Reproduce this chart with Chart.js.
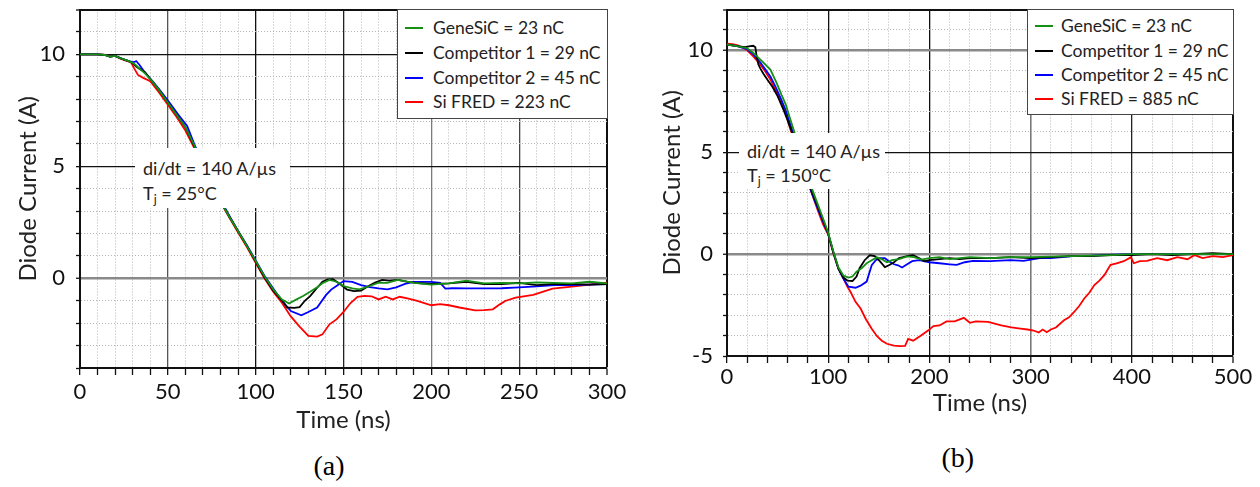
<!DOCTYPE html>
<html><head><meta charset="utf-8">
<script src="https://cdn.jsdelivr.net/npm/chart.js@4"></script>
<style>
html,body{margin:0;padding:0;background:#fff;width:1260px;height:487px;overflow:hidden;font-family:Lato,sans-serif;}
canvas{display:block;position:absolute;top:0}
.legend{position:absolute;background:#fff;border:1px solid #444;box-sizing:border-box;}
.row{position:absolute;height:22px;line-height:22px;white-space:nowrap;font-size:17.5px;color:#222;font-family:Lato,sans-serif}
.sw{position:absolute;height:2px}
.note{position:absolute;background:#fff}
.ntext{position:absolute;white-space:nowrap;font-size:18px;color:#222;line-height:24px;font-family:Lato,sans-serif}
.ntext sub{font-size:12.5px;vertical-align:-4px;line-height:0}
.cap{position:absolute;font-family:'Liberation Serif',serif;font-size:28px;color:#000;line-height:32px;white-space:nowrap}
</style></head>
<body>
<canvas id="ca" width="640" height="440" style="left:0"></canvas>
<canvas id="cb" width="620" height="440" style="left:640px"></canvas>
<script>
// ---------- data ----------
const seriesNames = ['GeneSiC', 'Competitor 1', 'Competitor 2', 'Si FRED'];
const chargeA = ['23 nC', '29 nC', '45 nC', '223 nC'];
const chargeB = ['23 nC', '29 nC', '45 nC', '885 nC'];
const xLabelsA = [0, 50, 100, 150, 200, 250, 300];
const yLabelsA = [0, 5, 10];
const xLabelsB = [0, 100, 200, 300, 400, 500];
const yLabelsB = [-5, 0, 5, 10];

// (a) Tj = 25 C
const geneA_t = [0,10,14,17,20,24,27,30,32,34,37,41,45,50,55,60,65,70,75,80,85,90,95,100,105,110,115,119,123,127,131,135,138,142,146,150,155,159,165,170,175,181,190,200,210,220,230,240,250,260,270,280,290,300];
const geneA_I = [10,10,9.97,9.9,9.93,9.8,9.72,9.62,9.5,9.35,9.15,8.8,8.4,7.85,7.3,6.75,5.95,5.05,4.25,3.45,2.75,2.1,1.45,0.78,0.1,-0.5,-0.95,-1.12,-0.95,-0.79,-0.6,-0.4,-0.22,-0.07,-0.15,-0.34,-0.45,-0.49,-0.34,-0.19,-0.2,-0.07,-0.2,-0.28,-0.22,-0.1,-0.22,-0.2,-0.22,-0.18,-0.2,-0.22,-0.15,-0.22];
const comp1A_t = [0,10,14,17,20,24,27,30,32,34,37,41,45,50,55,60,65,70,75,80,85,90,95,100,105,110,115,118,122,125,128,131,135,138,141,144,148,152,156,160,164,168,172,176,181,186,191,200,210,220,230,240,250,260,270,280,290,300];
const comp1A_I = [10,10,9.97,9.9,9.93,9.8,9.72,9.6,9.45,9.35,9.2,8.8,8.4,7.85,7.3,6.75,5.9,5.05,4.25,3.45,2.75,2.1,1.45,0.75,0.05,-0.55,-1.0,-1.3,-1.32,-1.28,-1.0,-0.79,-0.42,-0.15,-0.05,-0.04,-0.25,-0.5,-0.57,-0.55,-0.35,-0.19,-0.07,-0.1,-0.07,-0.15,-0.2,-0.25,-0.22,-0.15,-0.25,-0.25,-0.2,-0.3,-0.25,-0.25,-0.28,-0.25];
const comp2A_t = [0,10,14,17,20,24,27,30,31,32,34,37,42,46,51,56,61,65,70,75,80,85,90,95,100,105,110,114,120,126,130,135,140,143,146,150,155,160,165,170,175,180,185,190,200,205,208,212,220,230,240,250,260,270,280,290,300];
const comp2A_I = [10,10,9.97,9.9,9.93,9.8,9.72,9.65,9.66,9.7,9.51,9.18,8.74,8.35,7.84,7.3,6.8,6.0,5.1,4.3,3.5,2.8,2.12,1.48,0.8,0.12,-0.45,-0.9,-1.46,-1.65,-1.5,-1.3,-0.75,-0.5,-0.34,-0.12,-0.16,-0.3,-0.39,-0.45,-0.49,-0.4,-0.25,-0.16,-0.16,-0.2,-0.46,-0.44,-0.45,-0.45,-0.44,-0.4,-0.36,-0.3,-0.3,-0.28,-0.25];
const siA_t = [0,10,15,17,20,23,26,29,31,33,36,40,45,50,55,60,65,70,75,80,85,90,95,100,105,110,115,120,125,130,135,138,142,146,150,154,158,162,166,170,174,178,182,187,192,200,205,210,216,225,230,235,239,242,248,258,269,280,290,300];
const siA_I = [10,10,9.97,9.9,9.93,9.8,9.72,9.65,9.35,9.08,8.95,8.8,8.3,7.75,7.2,6.6,5.82,5.0,4.2,3.4,2.72,2.05,1.4,0.7,0.0,-0.6,-1.1,-1.7,-2.15,-2.57,-2.6,-2.5,-2.05,-1.83,-1.5,-1.1,-0.82,-0.78,-0.8,-0.94,-0.82,-0.94,-0.82,-0.9,-1.0,-1.2,-1.15,-1.2,-1.3,-1.43,-1.42,-1.38,-1.16,-1.01,-0.86,-0.74,-0.46,-0.37,-0.28,-0.19];

// (b) Tj = 150 C
const geneB_t = [0,10,20,26,33,38,43,49,54,58,62,66,72,78,84,90,96,100,105,110,115,120,124,128,133,138,143,148,153,158,163,170,178,185,192,200,210,220,230,240,260,280,300,320,340,360,380,400,430,460,500];
const geneB_I = [10.28,10.2,10.1,9.87,9.54,9.3,9.04,8.4,7.8,7.35,6.7,6.07,5.1,4.1,3.2,2.4,1.6,1.05,0.15,-0.65,-1.05,-1.15,-1.1,-0.86,-0.7,-0.45,-0.3,-0.16,-0.25,-0.4,-0.3,-0.25,-0.11,-0.15,-0.27,-0.2,-0.15,-0.25,-0.2,-0.15,-0.2,-0.15,-0.15,-0.12,-0.1,-0.08,-0.05,0,0,0,0];
const comp1B_t = [0,10,18,23,26,28,29,31,33,36,40,45,50,56,60,64,70,76,82,88,94,100,105,110,115,119,124,128,131,136,141,146,151,156,160,165,170,175,180,184,190,195,200,210,220,230,240,260,280,300,320,340,360,380,400,420,440,460,480,500];
const comp1B_I = [10.28,10.2,10.15,10.2,10.22,10.15,9.8,9.3,9.1,8.85,8.55,8.2,7.75,7.06,6.55,6.0,5.1,4.2,3.3,2.55,1.8,1.0,0.1,-0.7,-1.15,-1.3,-1.32,-1.1,-0.69,-0.3,-0.06,-0.1,-0.35,-0.64,-0.55,-0.4,-0.2,-0.14,-0.08,-0.05,-0.2,-0.35,-0.3,-0.25,-0.2,-0.25,-0.2,-0.2,-0.15,-0.2,-0.15,-0.1,-0.1,-0.05,-0.05,0,-0.05,0,0.05,0];
const comp2B_t = [0,10,20,26,33,38,43,48,53,58,63,68,74,80,86,92,97,100,105,110,115,120,127,132,138,143,147,151,156,160,165,169,173,178,183,190,200,210,220,227,235,243,260,280,293,309,320,342,360,375,400,450,500];
const comp2B_I = [10.28,10.2,10.05,9.8,9.4,9.05,8.7,8.2,7.65,7.05,6.3,5.55,4.55,3.5,2.7,1.95,1.35,1.0,0.1,-0.7,-1.2,-1.6,-1.65,-1.55,-1.35,-0.55,-0.3,-0.2,-0.2,-0.35,-0.5,-0.55,-0.66,-0.5,-0.35,-0.3,-0.4,-0.45,-0.5,-0.53,-0.4,-0.33,-0.35,-0.3,-0.33,-0.2,-0.2,-0.1,-0.08,-0.04,0,0,0];
const siB_t = [0,5,10,16,20,26,33,38,43,48,53,58,63,68,73,78,84,90,95,100,105,110,115,119,122,127,132,137,143,148,153,158,165,171,176,179,184,191,199,204,210,217,225,234,240,246,258,271,281,290,297,303,308,312,316,320,325,333,338,343,348,353,358,363,368,373,379,385,392,399,402,408,415,425,435,445,455,462,470,480,490,500];
const siB_I = [10.33,10.3,10.25,10.12,10.0,9.7,9.29,8.95,8.55,8.05,7.48,6.9,6.07,5.35,4.6,3.85,2.95,2.1,1.45,0.96,0.05,-0.7,-1.19,-1.6,-1.85,-2.34,-2.67,-3.17,-3.66,-4.02,-4.25,-4.4,-4.49,-4.52,-4.5,-4.16,-4.25,-4.02,-3.74,-3.53,-3.5,-3.3,-3.3,-3.13,-3.37,-3.3,-3.33,-3.5,-3.6,-3.66,-3.7,-3.75,-3.85,-3.7,-3.83,-3.7,-3.6,-3.25,-3.1,-2.84,-2.55,-2.18,-1.9,-1.52,-1.3,-1.02,-0.53,-0.45,-0.35,-0.16,-0.45,-0.35,-0.33,-0.2,-0.3,-0.15,-0.25,-0.05,-0.2,-0.1,-0.15,-0.05];

// ---------- styling ----------
const colors = ['#159015', '#000000', '#0000ff', '#ff0000'];
const FONT = 'Lato';
Chart.defaults.color = '#222';
Chart.defaults.font.family = FONT;

function pts(t, I) { return t.map((x, i) => ({x: x, y: I[i]})); }

function makeChart(id, o) {
  const datasets = o.series.map((s, i) => ({
    label: seriesNames[i], data: pts(s[0], s[1]), borderColor: colors[i],
    borderWidth: 1.8, pointRadius: 0, tension: 0, fill: false
  }));
  function zeroPad(s) { s.paddingLeft = 0; s.paddingRight = 0; s.paddingTop = 0; s.paddingBottom = 0; }
  return new Chart(document.getElementById(id), {
    type: 'line',
    data: {datasets},
    options: {
      responsive: false, animation: false, events: [],
      layout: {padding: {left: 0, top: 9.5, right: o.rightPad, bottom: 0}},
      plugins: {legend: {display: false}, tooltip: {enabled: false}},
      scales: {
        x: {
          type: 'linear', min: o.xMin, max: o.xMax,
          ticks: {stepSize: o.xStep, autoSkip: false, maxRotation: 0, padding: o.xTickPad,
                  font: {family: FONT, size: 22}, color: '#111',
                  callback: v => o.xLabels.includes(v) ? String(v) : ''},
          grid: {color: o.xGridColor, lineWidth: o.xGridWidth, tickLength: 7, tickColor: '#111', tickWidth: 1.3},
          border: {display: true, color: '#111', width: 2, dash: ctx => (ctx.tick && o.xLabels.indexOf(ctx.tick.value) < 0 && ctx.tick.value !== o.xMax) ? [1, 2] : []},
          title: {display: true, text: 'Time (ns)', font: {family: FONT, size: 24}, color: '#222', padding: {top: 0, bottom: o.xTitlePad}},
          afterFit: s => { s.height = o.xAxisH; zeroPad(s); }
        },
        y: {
          type: 'linear', min: o.yMin, max: o.yMax,
          ticks: {stepSize: 1, autoSkip: false, padding: o.yTickPad,
                  font: {family: FONT, size: 22}, color: '#111',
                  callback: v => o.yLabels.includes(v) ? String(v) : ''},
          grid: {color: o.yGridColor, lineWidth: o.yGridWidth, tickLength: 4, tickColor: '#111', tickWidth: 1.3},
          border: {display: true, color: '#111', width: 2, dash: ctx => (ctx.tick && o.yLabels.indexOf(ctx.tick.value) < 0 && ctx.tick.value !== o.yMax) ? [1, 2] : []},
          title: {display: true, text: 'Diode Current (A)', font: {family: FONT, size: 24}, color: '#222', padding: {top: o.yTitlePad, bottom: 0}},
          afterFit: s => { s.width = o.yAxisW; zeroPad(s); }
        }
      }
    }
  });
}

const MINOR = '#b4b4b4';
makeChart('ca', {
  series: [[geneA_t, geneA_I], [comp1A_t, comp1A_I], [comp2A_t, comp2A_I], [siA_t, siA_I]],
  xMin: 0, xMax: 300, xStep: 10, yMin: -4, yMax: 12,
  xLabels: xLabelsA, yLabels: yLabelsA,
  rightPad: 33, yAxisW: 80, xAxisH: 72, xTickPad: 3.5, yTickPad: 11, xTitlePad: 5.6, yTitlePad: 13.6,
  xGridColor: ctx => { const v = ctx.tick.value; const m = {0:'#111',50:'#555',100:'#111',150:'#222',200:'#7a7a7a',250:'#444',300:'#111'}; return m[v] || MINOR; },
  xGridWidth: ctx => { const v = ctx.tick.value; return v === 300 ? 2 : (v % 50 === 0 ? 1.3 : 1); },
  yGridColor: ctx => { const v = ctx.tick.value; const m = {'-4':'#111',0:'#8a8a8a',5:'#111',10:'#111',12:'#111'}; return m[v] || MINOR; },
  yGridWidth: ctx => { const v = ctx.tick.value; return v === 0 ? 2.5 : (v === 12 ? 2 : (yLabelsA.includes(v) ? 1.3 : 1)); }
});
makeChart('cb', {
  series: [[geneB_t, geneB_I], [comp1B_t, comp1B_I], [comp2B_t, comp2B_I], [siB_t, siB_I]],
  xMin: 0, xMax: 500, xStep: 20, yMin: -5, yMax: 12,
  xLabels: xLabelsB, yLabels: yLabelsB,
  rightPad: 27, yAxisW: 87, xAxisH: 84, xTickPad: 0.5, yTickPad: 10, xTitlePad: 22.6, yTitlePad: 17.6,
  xGridColor: ctx => { const v = ctx.tick.value; const m = {0:'#111',100:'#111',200:'#111',300:'#7a7a7a',400:'#222',500:'#111'}; return m[v] || MINOR; },
  xGridWidth: ctx => { const v = ctx.tick.value; return v === 500 ? 2 : (v === 300 ? 1.6 : (v % 100 === 0 ? 1.3 : 1)); },
  yGridColor: ctx => { const v = ctx.tick.value; const m = {'-5':'#111',0:'#8a8a8a',5:'#111',10:'#8a8a8a',12:'#111'}; return m[v] || MINOR; },
  yGridWidth: ctx => { const v = ctx.tick.value; return (v === 0 || v === 10) ? 2.5 : (v === 12 ? 2 : (v === 5 ? 1.3 : 1)); }
});

// ---------- overlays: legends, notes, captions ----------
function addLegend(box, rows, charges) {
  const d = document.createElement('div');
  d.className = 'legend';
  Object.assign(d.style, {left: box.l + 'px', top: box.t + 'px', width: box.w + 'px', height: box.h + 'px'});
  document.body.appendChild(d);
  rows.forEach((cy, i) => {
    const sw = document.createElement('div');
    sw.className = 'sw';
    Object.assign(sw.style, {left: box.swx + 'px', top: (cy - 1) + 'px', width: '18px', background: colors[i]});
    document.body.appendChild(sw);
    const r = document.createElement('div');
    r.className = 'row';
    r.textContent = seriesNames[i] + ' = ' + charges[i];
    Object.assign(r.style, {left: box.tx + 'px', top: (cy - 11) + 'px'});
    document.body.appendChild(r);
  });
}
addLegend({l: 397, t: 9, w: 211, h: 110, swx: 405, tx: 433}, [28, 53, 78, 102], chargeA);
addLegend({l: 1027, t: 9, w: 207, h: 106, swx: 1035, tx: 1061}, [26, 51, 75, 99], chargeB);

function addNote(box, tj) {
  const d = document.createElement('div');
  d.className = 'note';
  Object.assign(d.style, {left: box.l + 'px', top: box.t + 'px', width: box.w + 'px', height: box.h + 'px'});
  document.body.appendChild(d);
  const a = document.createElement('div');
  a.className = 'ntext';
  a.textContent = 'di/dt = 140 A/\u00b5s';
  Object.assign(a.style, {left: box.tx + 'px', top: (box.c1 - 12) + 'px'});
  document.body.appendChild(a);
  const b = document.createElement('div');
  b.className = 'ntext';
  b.innerHTML = 'T<sub>j</sub> = ' + tj;
  Object.assign(b.style, {left: box.tx + 'px', top: (box.c2 - 12) + 'px'});
  document.body.appendChild(b);
}
addNote({l: 135, t: 148, w: 155, h: 60, tx: 143, c1: 168, c2: 193}, '25\u00b0C');
addNote({l: 739, t: 133, w: 146, h: 56, tx: 747, c1: 151, c2: 175}, '150\u00b0C');

function addCap(txt, cx, cy) {
  const c = document.createElement('div');
  c.className = 'cap';
  c.textContent = txt;
  document.body.appendChild(c);
  c.style.left = (cx - c.offsetWidth / 2) + 'px';
  c.style.top = (cy - 16) + 'px';
}
addCap('(a)', 329, 466);
addCap('(b)', 958, 458);
</script>
</body></html>
